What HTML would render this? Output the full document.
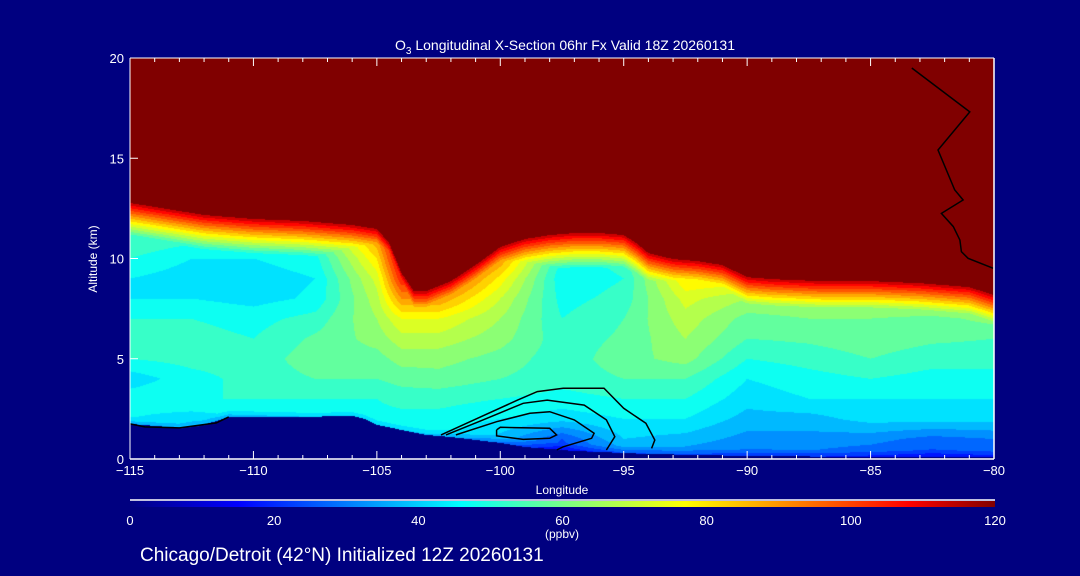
<!DOCTYPE html>
<html><head><meta charset="utf-8">
<style>
html,body{margin:0;padding:0;background:#000080;}
#wrap{position:relative;width:1080px;height:576px;overflow:hidden;background:#000080;font-family:"Liberation Sans",sans-serif;}
#field{position:absolute;left:130px;top:58px;}
#ov{position:absolute;left:0;top:0;}
text{fill:#fff;font-family:"Liberation Sans",sans-serif;}
</style></head>
<body>
<div id="wrap">
<canvas id="field" width="864" height="401"></canvas>
<svg id="ov" width="1080" height="576">
<defs><linearGradient id="cbgrad" x1="0" x2="1" y1="0" y2="0"></linearGradient></defs>
<g id="contours"></g>
<g id="axes"></g>
<text x="565" y="50" text-anchor="middle" font-size="14">O<tspan font-size="10" dy="4">3</tspan><tspan dy="-4"> Longitudinal X-Section 06hr  Fx Valid 18Z 20260131</tspan></text>
<text transform="translate(97,259) rotate(-90)" text-anchor="middle" font-size="12">Altitude (km)</text>
<text x="562" y="494" text-anchor="middle" font-size="12">Longitude</text>
<line x1="130" y1="500" x2="995" y2="500" stroke="#fff" stroke-width="1.5"/>
<rect x="130" y="501" width="865" height="6" fill="url(#cbgrad)"/>
<g id="cblabels"></g>
<text x="562" y="538" text-anchor="middle" font-size="12">(ppbv)</text>
<text x="140" y="561" font-size="19">Chicago/Detroit (42°N) Initialized 12Z 20260131</text>
</svg>
</div>
<script>
// ---- data ----
const profLons = [-115,-112.5,-110,-107.5,-105,-104,-102.5,-100,-97.5,-95,-92.5,-90,-87.5,-85,-82.5,-80];
const profLevels = [0,1,2,3,4,5,6,7,8,9,10,11];
const profVals = [
[45,45,45,48,42,50,52,50,45,45,50,55],
[45,45,42,50,48,52,52,50,45,42,45,52],
[45,45,45,50,52,52,50,48,43,42,45,50],
[48,48,48,50,55,58,56,52,46,45,48,55],
[48,48,48,50,55,58,62,65,68,72,80,90],
[48,48,48,52,57,62,68,75,90,105,115,120],
[45,45,48,52,58,62,68,75,90,105,115,120],
[30,38,45,50,55,58,62,65,70,78,90,105],
[20,25,42,48,52,52,52,50,48,46,48,60],
[30,40,45,50,55,58,56,55,52,50,52,65],
[30,38,45,50,55,62,65,68,72,80,95,110],
[28,33,38,42,45,50,55,58,65,80,100,115],
[28,33,38,45,48,52,56,60,65,80,100,115],
[25,32,42,45,50,55,58,60,68,85,105,115],
[22,28,42,45,48,52,56,58,72,90,110,120],
[25,30,42,45,48,52,55,62,80,100,115,120]];
const tropoLons = [-115,-112,-110,-108,-106,-105,-104.5,-104,-103.5,-103,-102,-101,-100,-99,-98,-97,-96,-95,-94.5,-94,-93,-92,-91,-90,-89,-87,-85,-83,-81,-80];
const tropoKm   = [12.9,12.3,12.1,12.0,11.8,11.6,10.9,9.4,8.5,8.5,9.0,9.8,10.7,11.1,11.3,11.4,11.4,11.3,10.9,10.4,10.1,10.0,9.8,9.2,9.1,9.0,9.0,8.9,8.7,8.3];
const terrLons = [-115,-114,-113,-112,-111,-110,-108,-106,-105.5,-105,-104,-103,-102,-101,-100,-99,-98,-97,-96,-95,-94,-92,-90,-85,-80];
const terrKm   = [1.75,1.65,1.55,1.7,2.1,2.1,2.1,2.15,2.0,1.7,1.45,1.2,1.1,0.95,0.8,0.6,0.5,0.4,0.35,0.3,0.25,0.2,0.15,0.1,0.1];
const cmapVals = [0,15,46,61,77,108,120];
const cmapCols = [[0,0,128],[0,0,255],[0,255,255],[128,255,128],[255,255,0],[255,0,0],[128,0,0]];
const xTicks = [-115,-110,-105,-100,-95,-90,-85,-80];
const xTickLabels = ["\u2212115","\u2212110","\u2212105","\u2212100","\u221295","\u221290","\u221285","\u221280"];
const yTicks = [0,5,10,15,20];
const cbTicks = [0,20,40,60,80,100,120];
const contourA = [[-102.4,1.2],[-100.8,2.1],[-99.3,2.94],[-98.5,3.36],[-97.45,3.53],[-95.8,3.53],[-95.0,2.53],[-94.1,1.78],[-93.74,0.95],[-93.87,0.53]];
const contourB = [[-102.2,1.2],[-100.7,1.95],[-99.07,2.78],[-98.1,2.94],[-96.6,2.69],[-95.7,1.95],[-95.36,1.11],[-95.7,0.45]];
const contourC = [[-101.8,1.2],[-100.15,1.86],[-98.8,2.28],[-98.0,2.36],[-97.0,1.95],[-96.2,1.28],[-96.3,1.03],[-97.45,0.61],[-97.72,0.45]];
const contourD = [[-100.15,1.45],[-100.0,1.58],[-98.0,1.53],[-97.72,1.2],[-98.0,1.03],[-99.07,0.98],[-100.15,1.15],[-100.15,1.45]];
const contourE = [[-83.33,19.5],[-80.98,17.31],[-82.27,15.41],[-81.59,13.42],[-81.25,12.92],[-82.13,12.25],[-81.65,11.59],[-81.38,10.92],[-81.32,10.34],[-81.05,10.01],[-80.03,9.51]];
const contourLeft = [[-115,1.75],[-114.4,1.6],[-113,1.55],[-111.5,1.8],[-111,2.1]];

// ---- scales ----
const X0=130,X1=994,Y0=459,Y1=58;
function xS(lon){return X0+(lon+115)*(X1-X0)/35;}
function yS(km){return Y0-km*(Y0-Y1)/20;}
function interp(xs,ys,x){
  if(x<=xs[0])return ys[0];
  for(let i=1;i<xs.length;i++){if(x<=xs[i]){const t=(x-xs[i-1])/(xs[i]-xs[i-1]);return ys[i-1]+t*(ys[i]-ys[i-1]);}}
  return ys[ys.length-1];
}
function cmap(v){
  v=Math.max(0,Math.min(120,v));
  for(let i=1;i<cmapVals.length;i++){if(v<=cmapVals[i]){const t=(v-cmapVals[i-1])/(cmapVals[i]-cmapVals[i-1]);const a=cmapCols[i-1],b=cmapCols[i];return [a[0]+t*(b[0]-a[0]),a[1]+t*(b[1]-a[1]),a[2]+t*(b[2]-a[2])];}}
  return cmapCols[cmapCols.length-1];
}
function profile(lon,km){
  let i=0;while(i<profLons.length-2&&lon>profLons[i+1])i++;
  let tx=(lon-profLons[i])/(profLons[i+1]-profLons[i]);tx=Math.max(0,Math.min(1,tx));
  const z=Math.max(0,Math.min(11,km));let j=Math.min(10,Math.floor(z));const tz=z-j;
  const a=profVals[i][j]*(1-tz)+profVals[i][j+1]*tz;
  const b=profVals[i+1][j]*(1-tz)+profVals[i+1][j+1]*tz;
  return a*(1-tx)+b*tx;
}
// ---- field ----
(function(){
  const cv=document.getElementById('field');const ctx=cv.getContext('2d');
  const W=cv.width,H=cv.height;const img=ctx.createImageData(W,H);
  for(let px=0;px<W;px++){
    const lon=-115+(px+0.5)*35/W;
    const tr=interp(tropoLons,tropoKm,lon), te=interp(terrLons,terrKm,lon);
    const band=1.7;
    for(let py=0;py<H;py++){
      const km=(Y0-(Y1+py+0.5))*20/(Y0-Y1);
      let c;
      if(km<te){c=[0,0,128];}
      else{
        let v=profile(lon,km);
        const r=55+65*(km-(tr-band))/band;
        v=Math.max(v,Math.min(120,r));
        if(km-te<0.35)v=Math.min(v,v-8*(1-(km-te)/0.35));
        v=Math.floor(v/5)*5+2.5; if(v>117)v=120;
        c=cmap(v);
      }
      const k=(py*W+px)*4;img.data[k]=c[0];img.data[k+1]=c[1];img.data[k+2]=c[2];img.data[k+3]=255;
    }
  }
  ctx.putImageData(img,0,0);
})();
// ---- contours ----
const NS='http://www.w3.org/2000/svg';
function poly(pts,name,dash){
  const p=document.createElementNS(NS,'polyline');
  p.setAttribute('points',pts.map(q=>xS(q[0]).toFixed(1)+','+yS(q[1]).toFixed(1)).join(' '));
  p.setAttribute('fill','none');p.setAttribute('stroke','#000');p.setAttribute('stroke-width','1.5');
  if(dash)p.setAttribute('stroke-dasharray',dash);
  
  
  document.getElementById('contours').appendChild(p);
}
poly(contourA,'contour-0-outer');poly(contourB,'contour-5');poly(contourC,'contour-10');poly(contourD,'contour-15');
poly(contourE,'contour-0-upper-right');poly(contourLeft,'contour-0-left');
// ---- axes ----
(function(){
  const g=document.getElementById('axes');
  function line(x1,y1,x2,y2,name,w){const l=document.createElementNS(NS,'line');l.setAttribute('x1',x1);l.setAttribute('y1',y1);l.setAttribute('x2',x2);l.setAttribute('y2',y2);l.setAttribute('stroke','#fff');l.setAttribute('stroke-width',w||1);
    
    
    g.appendChild(l);}
  function txt(x,y,s,anchor,name,size){const t=document.createElementNS(NS,'text');t.setAttribute('x',x);t.setAttribute('y',y);t.setAttribute('text-anchor',anchor);t.setAttribute('font-size',size||13);t.textContent=s;
    
    
    g.appendChild(t);return t;}
  line(X0,Y1,X1,Y1,'plot-top-border');line(X0,Y0,X1,Y0,'x-axis-line',1.5);line(X1,Y1,X1,Y0,'plot-right-border',1.5);line(X0,Y1,X0,Y0,'y-axis-line');
  for(let lon=-115;lon<=-80;lon++){const major=lon%5===0;const x=xS(lon);line(x,Y0,x,Y0-(major?8:4),'x-tick');line(x,Y1,x,Y1+(major?8:4),'x-tick-top');}
  xTicks.forEach((v,i)=>txt(xS(v),475,xTickLabels[i],'middle','x-tick-label'));
  yTicks.forEach(v=>{txt(124,yS(v)+5,String(v),'end','y-tick-label');line(X0,yS(v),X0+8,yS(v),'y-tick');});
  const cg=document.getElementById('cblabels');
  cbTicks.forEach(v=>{const t=document.createElementNS(NS,'text');t.setAttribute('x',130+v/120*865);t.setAttribute('y',525);t.setAttribute('text-anchor','middle');t.setAttribute('font-size',13);t.textContent=String(v);
    
    
    cg.appendChild(t);});
  const gr=document.getElementById('cbgrad');
  cmapVals.forEach((v,i)=>{const s=document.createElementNS(NS,'stop');s.setAttribute('offset',(v/120*100)+'%');const c=cmapCols[i];s.setAttribute('stop-color','rgb('+c.join(',')+')');gr.appendChild(s);});
})();
</script>
</body></html>
